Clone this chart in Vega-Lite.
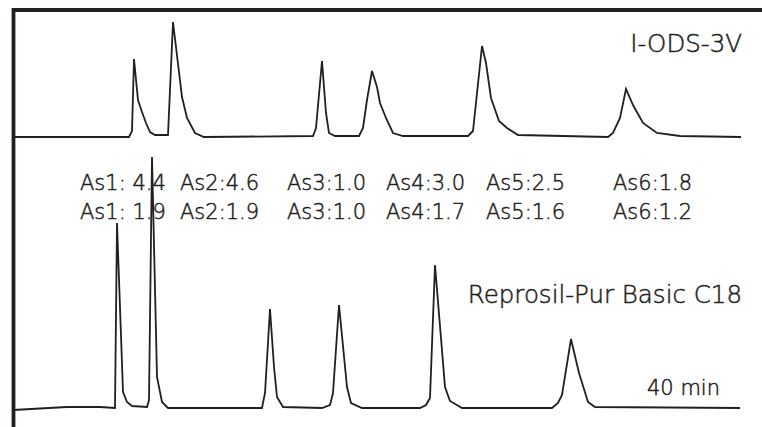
{
  "$schema": "https://vega.github.io/schema/vega-lite/v6.json",
  "width": 762,
  "height": 427,
  "autosize": {"type": "none"},
  "padding": 0,
  "background": "white",
  "config": {"view": {"stroke": null}},
  "datasets": {
    "traces": [
      {"s": "I-ODS-3V", "i": 0, "t": 13, "v": 137},
      {"s": "I-ODS-3V", "i": 1, "t": 129, "v": 137},
      {"s": "I-ODS-3V", "i": 2, "t": 132, "v": 131},
      {"s": "I-ODS-3V", "i": 3, "t": 134, "v": 59},
      {"s": "I-ODS-3V", "i": 4, "t": 138, "v": 100},
      {"s": "I-ODS-3V", "i": 5, "t": 142, "v": 112},
      {"s": "I-ODS-3V", "i": 6, "t": 146, "v": 123},
      {"s": "I-ODS-3V", "i": 7, "t": 150, "v": 132},
      {"s": "I-ODS-3V", "i": 8, "t": 155, "v": 135},
      {"s": "I-ODS-3V", "i": 9, "t": 168, "v": 135},
      {"s": "I-ODS-3V", "i": 10, "t": 173, "v": 22},
      {"s": "I-ODS-3V", "i": 11, "t": 182, "v": 97},
      {"s": "I-ODS-3V", "i": 12, "t": 187, "v": 118},
      {"s": "I-ODS-3V", "i": 13, "t": 195, "v": 133},
      {"s": "I-ODS-3V", "i": 14, "t": 204, "v": 137},
      {"s": "I-ODS-3V", "i": 15, "t": 313, "v": 136},
      {"s": "I-ODS-3V", "i": 16, "t": 316, "v": 128},
      {"s": "I-ODS-3V", "i": 17, "t": 322, "v": 61},
      {"s": "I-ODS-3V", "i": 18, "t": 326, "v": 113},
      {"s": "I-ODS-3V", "i": 19, "t": 329, "v": 133},
      {"s": "I-ODS-3V", "i": 20, "t": 335, "v": 136},
      {"s": "I-ODS-3V", "i": 21, "t": 359, "v": 136},
      {"s": "I-ODS-3V", "i": 22, "t": 363, "v": 128},
      {"s": "I-ODS-3V", "i": 23, "t": 367, "v": 100},
      {"s": "I-ODS-3V", "i": 24, "t": 372, "v": 71},
      {"s": "I-ODS-3V", "i": 25, "t": 377, "v": 87},
      {"s": "I-ODS-3V", "i": 26, "t": 380, "v": 103},
      {"s": "I-ODS-3V", "i": 27, "t": 386, "v": 118},
      {"s": "I-ODS-3V", "i": 28, "t": 393, "v": 133},
      {"s": "I-ODS-3V", "i": 29, "t": 403, "v": 136},
      {"s": "I-ODS-3V", "i": 30, "t": 468, "v": 136},
      {"s": "I-ODS-3V", "i": 31, "t": 473, "v": 131},
      {"s": "I-ODS-3V", "i": 32, "t": 482, "v": 46},
      {"s": "I-ODS-3V", "i": 33, "t": 486, "v": 63},
      {"s": "I-ODS-3V", "i": 34, "t": 491, "v": 98},
      {"s": "I-ODS-3V", "i": 35, "t": 499, "v": 121},
      {"s": "I-ODS-3V", "i": 36, "t": 507, "v": 128},
      {"s": "I-ODS-3V", "i": 37, "t": 518, "v": 135},
      {"s": "I-ODS-3V", "i": 38, "t": 608, "v": 137},
      {"s": "I-ODS-3V", "i": 39, "t": 613, "v": 133},
      {"s": "I-ODS-3V", "i": 40, "t": 620, "v": 118},
      {"s": "I-ODS-3V", "i": 41, "t": 626, "v": 89},
      {"s": "I-ODS-3V", "i": 42, "t": 633, "v": 105},
      {"s": "I-ODS-3V", "i": 43, "t": 643, "v": 123},
      {"s": "I-ODS-3V", "i": 44, "t": 657, "v": 133},
      {"s": "I-ODS-3V", "i": 45, "t": 680, "v": 136},
      {"s": "I-ODS-3V", "i": 46, "t": 741, "v": 137},
      {"s": "Reprosil", "i": 0, "t": 13, "v": 410},
      {"s": "Reprosil", "i": 1, "t": 67, "v": 407},
      {"s": "Reprosil", "i": 2, "t": 100, "v": 407},
      {"s": "Reprosil", "i": 3, "t": 115, "v": 408},
      {"s": "Reprosil", "i": 4, "t": 117, "v": 223},
      {"s": "Reprosil", "i": 5, "t": 123, "v": 392},
      {"s": "Reprosil", "i": 6, "t": 127, "v": 402},
      {"s": "Reprosil", "i": 7, "t": 132, "v": 406},
      {"s": "Reprosil", "i": 8, "t": 147, "v": 407},
      {"s": "Reprosil", "i": 9, "t": 149, "v": 400},
      {"s": "Reprosil", "i": 10, "t": 152, "v": 157},
      {"s": "Reprosil", "i": 11, "t": 157, "v": 377},
      {"s": "Reprosil", "i": 12, "t": 162, "v": 402},
      {"s": "Reprosil", "i": 13, "t": 168, "v": 408},
      {"s": "Reprosil", "i": 14, "t": 262, "v": 408},
      {"s": "Reprosil", "i": 15, "t": 265, "v": 393},
      {"s": "Reprosil", "i": 16, "t": 270, "v": 309},
      {"s": "Reprosil", "i": 17, "t": 274, "v": 367},
      {"s": "Reprosil", "i": 18, "t": 277, "v": 397},
      {"s": "Reprosil", "i": 19, "t": 283, "v": 407},
      {"s": "Reprosil", "i": 20, "t": 322, "v": 408},
      {"s": "Reprosil", "i": 21, "t": 330, "v": 405},
      {"s": "Reprosil", "i": 22, "t": 333, "v": 393},
      {"s": "Reprosil", "i": 23, "t": 339, "v": 305},
      {"s": "Reprosil", "i": 24, "t": 347, "v": 387},
      {"s": "Reprosil", "i": 25, "t": 351, "v": 403},
      {"s": "Reprosil", "i": 26, "t": 362, "v": 408},
      {"s": "Reprosil", "i": 27, "t": 420, "v": 408},
      {"s": "Reprosil", "i": 28, "t": 426, "v": 405},
      {"s": "Reprosil", "i": 29, "t": 430, "v": 398},
      {"s": "Reprosil", "i": 30, "t": 435, "v": 265},
      {"s": "Reprosil", "i": 31, "t": 445, "v": 387},
      {"s": "Reprosil", "i": 32, "t": 450, "v": 401},
      {"s": "Reprosil", "i": 33, "t": 462, "v": 408},
      {"s": "Reprosil", "i": 34, "t": 552, "v": 408},
      {"s": "Reprosil", "i": 35, "t": 558, "v": 403},
      {"s": "Reprosil", "i": 36, "t": 562, "v": 395},
      {"s": "Reprosil", "i": 37, "t": 571, "v": 339},
      {"s": "Reprosil", "i": 38, "t": 579, "v": 373},
      {"s": "Reprosil", "i": 39, "t": 588, "v": 402},
      {"s": "Reprosil", "i": 40, "t": 595, "v": 407},
      {"s": "Reprosil", "i": 41, "t": 740, "v": 408}
    ],
    "frame": [
      {"i": 0, "t": 762, "v": 10},
      {"i": 1, "t": 13.5, "v": 10},
      {"i": 2, "t": 13.5, "v": 427}
    ],
    "asym": [
      {"t": 80, "v": 190, "label": "As1: 4.4"},
      {"t": 180, "v": 190, "label": "As2:4.6"},
      {"t": 287, "v": 190, "label": "As3:1.0"},
      {"t": 386, "v": 190, "label": "As4:3.0"},
      {"t": 486, "v": 190, "label": "As5:2.5"},
      {"t": 613, "v": 190, "label": "As6:1.8"},
      {"t": 80, "v": 219, "label": "As1: 1.9"},
      {"t": 180, "v": 219, "label": "As2:1.9"},
      {"t": 287, "v": 219, "label": "As3:1.0"},
      {"t": 386, "v": 219, "label": "As4:1.7"},
      {"t": 486, "v": 219, "label": "As5:1.6"},
      {"t": 613, "v": 219, "label": "As6:1.2"}
    ],
    "names": [
      {"t": 742, "v": 52, "label": "I-ODS-3V"},
      {"t": 742, "v": 303, "label": "Reprosil-Pur Basic C18"}
    ],
    "time": [
      {"t": 720, "v": 395, "label": "40 min"}
    ]
  },
  "layer": [
    {
      "data": {"name": "asym"},
      "mark": {"type": "text", "align": "left", "baseline": "alphabetic", "font": "DejaVu Sans", "fontSize": 21, "fontWeight": 300, "color": "#231f20", "stroke": "#231f20", "strokeWidth": 0.5},
      "encoding": {
        "x": {"field": "t", "type": "quantitative", "scale": {"domain": [0, 762], "nice": false, "zero": false}, "axis": null},
        "y": {"field": "v", "type": "quantitative", "scale": {"domain": [0, 427], "nice": false, "zero": false, "reverse": true}, "axis": null},
        "text": {"field": "label"}
      }
    },
    {
      "data": {"name": "traces"},
      "mark": {"type": "line", "color": "#231f20", "strokeWidth": 1.8, "strokeJoin": "miter"},
      "encoding": {
        "x": {"field": "t", "type": "quantitative"},
        "y": {"field": "v", "type": "quantitative"},
        "detail": {"field": "s"},
        "order": {"field": "i", "type": "quantitative"}
      }
    },
    {
      "data": {"name": "frame"},
      "mark": {"type": "line", "color": "#231f20", "strokeWidth": 3.8, "strokeJoin": "miter", "strokeCap": "butt"},
      "encoding": {
        "x": {"field": "t", "type": "quantitative"},
        "y": {"field": "v", "type": "quantitative"},
        "order": {"field": "i", "type": "quantitative"}
      }
    },
    {
      "data": {"name": "names"},
      "mark": {"type": "text", "align": "right", "baseline": "alphabetic", "font": "DejaVu Sans", "fontSize": 24.5, "fontWeight": 300, "color": "#231f20", "stroke": "#231f20", "strokeWidth": 0.5},
      "encoding": {
        "x": {"field": "t", "type": "quantitative"},
        "y": {"field": "v", "type": "quantitative"},
        "text": {"field": "label"}
      }
    },
    {
      "data": {"name": "time"},
      "mark": {"type": "text", "align": "right", "baseline": "alphabetic", "font": "DejaVu Sans", "fontSize": 21, "fontWeight": 300, "color": "#231f20", "stroke": "#231f20", "strokeWidth": 0.5},
      "encoding": {
        "x": {"field": "t", "type": "quantitative"},
        "y": {"field": "v", "type": "quantitative"},
        "text": {"field": "label"}
      }
    }
  ]
}
